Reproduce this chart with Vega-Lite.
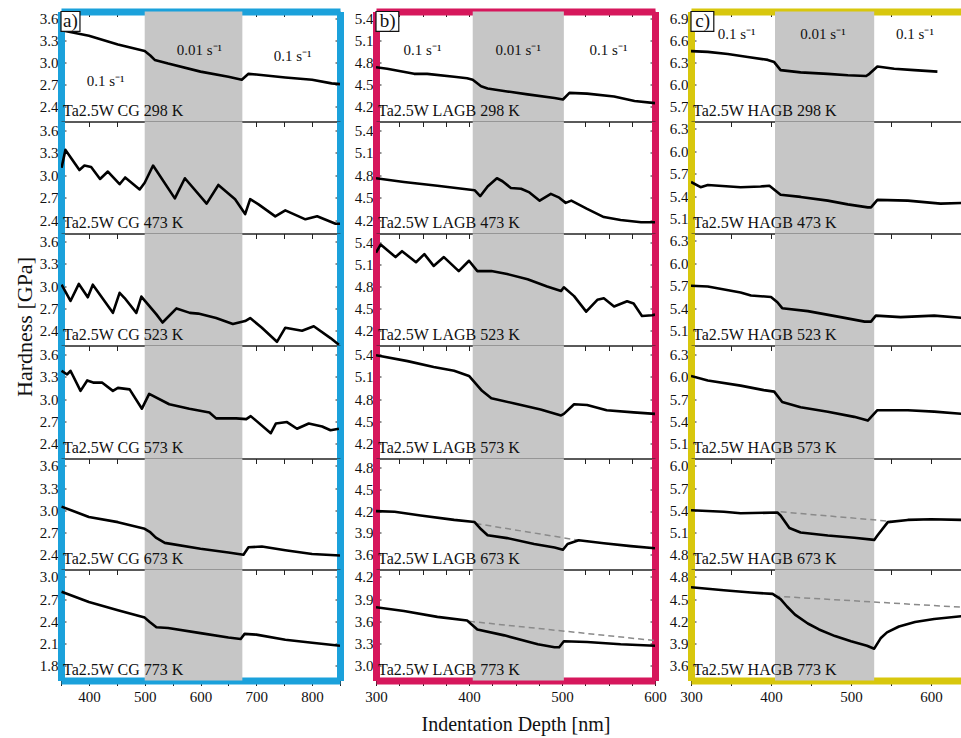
{
"$schema":"https://vega.github.io/schema/vega-lite/v6.json",
"autosize":{"type":"pad"},
"padding":{"left":12,"top":9.5,"right":0,"bottom":0},
"background":"white",
"config":{"font":"Liberation Serif","view":{"stroke":"#222","strokeWidth":1},
"line":{"strokeWidth":2.6,"strokeJoin":"round"},
"axis":{"labelFont":"Liberation Serif","labelFontSize":15,"labelColor":"#111","tickColor":"#222","titleFont":"Liberation Serif","titleFontWeight":"normal","titleColor":"#111","grid":false,"labelFlush":false,"labelOverlap":false},
"text":{"font":"Liberation Serif","color":"#111"}},
"datasets":{
"panels":[
{"p":"a1","label":"Ta2.5W CG 298 K","b0":500,"b1":675,"letter":"a)"},
{"p":"a2","label":"Ta2.5W CG 473 K","b0":500,"b1":675},
{"p":"a3","label":"Ta2.5W CG 523 K","b0":500,"b1":675},
{"p":"a4","label":"Ta2.5W CG 573 K","b0":500,"b1":675},
{"p":"a5","label":"Ta2.5W CG 673 K","b0":500,"b1":675},
{"p":"a6","label":"Ta2.5W CG 773 K","b0":500,"b1":675},
{"p":"b1","label":"Ta2.5W LAGB 298 K","b0":404,"b1":502,"letter":"b)"},
{"p":"b2","label":"Ta2.5W LAGB 473 K","b0":404,"b1":502},
{"p":"b3","label":"Ta2.5W LAGB 523 K","b0":404,"b1":502},
{"p":"b4","label":"Ta2.5W LAGB 573 K","b0":404,"b1":502},
{"p":"b5","label":"Ta2.5W LAGB 673 K","b0":404,"b1":502},
{"p":"b6","label":"Ta2.5W LAGB 773 K","b0":404,"b1":502},
{"p":"c1","label":"Ta2.5W HAGB 298 K","b0":405,"b1":529,"letter":"c)"},
{"p":"c2","label":"Ta2.5W HAGB 473 K","b0":405,"b1":529},
{"p":"c3","label":"Ta2.5W HAGB 523 K","b0":405,"b1":529},
{"p":"c4","label":"Ta2.5W HAGB 573 K","b0":405,"b1":529},
{"p":"c5","label":"Ta2.5W HAGB 673 K","b0":405,"b1":529},
{"p":"c6","label":"Ta2.5W HAGB 773 K","b0":405,"b1":529}],
"rates":[
{"col":"a","r":"0.1 s⁻¹","d":430,"h":2.75},{"col":"a","r":"0.01 s⁻¹","d":598,"h":3.17},{"col":"a","r":"0.1 s⁻¹","d":765,"h":3.09},
{"col":"b","r":"0.1 s⁻¹","d":350,"h":4.98},{"col":"b","r":"0.01 s⁻¹","d":453,"h":4.98},{"col":"b","r":"0.1 s⁻¹","d":550,"h":4.98},
{"col":"c","r":"0.1 s⁻¹","d":357,"h":6.69},{"col":"c","r":"0.01 s⁻¹","d":465,"h":6.69},{"col":"c","r":"0.1 s⁻¹","d":580,"h":6.69}],
"refs":[
{"p":"b5","d":407,"h":4.03},{"p":"b5","d":518,"h":3.80},
{"p":"b6","d":400,"h":3.60},{"p":"b6","d":600,"h":3.34},
{"p":"c5","d":412,"h":5.38},{"p":"c5","d":550,"h":5.25},
{"p":"c6","d":404,"h":4.54},{"p":"c6","d":639,"h":4.39}],
"curves":[
{"p":"a1","d":353,"h":3.44},{"p":"a1","d":400,"h":3.37},{"p":"a1","d":452,"h":3.25},{"p":"a1","d":500,"h":3.16},{"p":"a1","d":510,"h":3.10},{"p":"a1","d":518,"h":3.04},{"p":"a1","d":542,"h":2.99},{"p":"a1","d":600,"h":2.88},{"p":"a1","d":650,"h":2.81},{"p":"a1","d":674,"h":2.77},{"p":"a1","d":686,"h":2.85},{"p":"a1","d":700,"h":2.84},{"p":"a1","d":752,"h":2.80},{"p":"a1","d":800,"h":2.77},{"p":"a1","d":835,"h":2.72},{"p":"a1","d":850,"h":2.71},
{"p":"a2","d":351,"h":3.10},{"p":"a2","d":353,"h":3.17},{"p":"a2","d":358,"h":3.34},{"p":"a2","d":368,"h":3.23},{"p":"a2","d":383,"h":3.07},{"p":"a2","d":392,"h":3.13},{"p":"a2","d":404,"h":3.11},{"p":"a2","d":420,"h":2.95},{"p":"a2","d":434,"h":3.05},{"p":"a2","d":455,"h":2.88},{"p":"a2","d":465,"h":2.97},{"p":"a2","d":491,"h":2.81},{"p":"a2","d":500,"h":2.90},{"p":"a2","d":515,"h":3.13},{"p":"a2","d":554,"h":2.69},{"p":"a2","d":572,"h":2.96},{"p":"a2","d":611,"h":2.62},{"p":"a2","d":632,"h":2.87},{"p":"a2","d":662,"h":2.68},{"p":"a2","d":680,"h":2.48},{"p":"a2","d":689,"h":2.68},{"p":"a2","d":704,"h":2.61},{"p":"a2","d":734,"h":2.45},{"p":"a2","d":752,"h":2.53},{"p":"a2","d":788,"h":2.41},{"p":"a2","d":809,"h":2.45},{"p":"a2","d":842,"h":2.35},{"p":"a2","d":850,"h":2.35},
{"p":"a3","d":351,"h":3.02},{"p":"a3","d":367,"h":2.80},{"p":"a3","d":382,"h":3.03},{"p":"a3","d":398,"h":2.85},{"p":"a3","d":407,"h":3.02},{"p":"a3","d":443,"h":2.64},{"p":"a3","d":455,"h":2.91},{"p":"a3","d":464,"h":2.84},{"p":"a3","d":485,"h":2.64},{"p":"a3","d":494,"h":2.86},{"p":"a3","d":521,"h":2.62},{"p":"a3","d":532,"h":2.51},{"p":"a3","d":557,"h":2.70},{"p":"a3","d":581,"h":2.64},{"p":"a3","d":596,"h":2.63},{"p":"a3","d":612,"h":2.60},{"p":"a3","d":628,"h":2.57},{"p":"a3","d":658,"h":2.49},{"p":"a3","d":680,"h":2.53},{"p":"a3","d":689,"h":2.57},{"p":"a3","d":710,"h":2.44},{"p":"a3","d":737,"h":2.25},{"p":"a3","d":752,"h":2.44},{"p":"a3","d":782,"h":2.40},{"p":"a3","d":803,"h":2.46},{"p":"a3","d":833,"h":2.30},{"p":"a3","d":848,"h":2.21},
{"p":"a4","d":351,"h":3.38},{"p":"a4","d":361,"h":3.33},{"p":"a4","d":367,"h":3.38},{"p":"a4","d":385,"h":3.11},{"p":"a4","d":397,"h":3.25},{"p":"a4","d":409,"h":3.22},{"p":"a4","d":424,"h":3.22},{"p":"a4","d":443,"h":3.11},{"p":"a4","d":452,"h":3.15},{"p":"a4","d":473,"h":3.13},{"p":"a4","d":495,"h":2.87},{"p":"a4","d":508,"h":3.07},{"p":"a4","d":544,"h":2.93},{"p":"a4","d":580,"h":2.87},{"p":"a4","d":616,"h":2.82},{"p":"a4","d":628,"h":2.74},{"p":"a4","d":664,"h":2.74},{"p":"a4","d":682,"h":2.73},{"p":"a4","d":690,"h":2.77},{"p":"a4","d":726,"h":2.54},{"p":"a4","d":735,"h":2.67},{"p":"a4","d":755,"h":2.69},{"p":"a4","d":773,"h":2.60},{"p":"a4","d":794,"h":2.67},{"p":"a4","d":818,"h":2.63},{"p":"a4","d":833,"h":2.58},{"p":"a4","d":848,"h":2.60},
{"p":"a5","d":351,"h":3.05},{"p":"a5","d":400,"h":2.91},{"p":"a5","d":452,"h":2.84},{"p":"a5","d":500,"h":2.75},{"p":"a5","d":509,"h":2.71},{"p":"a5","d":520,"h":2.63},{"p":"a5","d":536,"h":2.56},{"p":"a5","d":600,"h":2.48},{"p":"a5","d":650,"h":2.43},{"p":"a5","d":677,"h":2.40},{"p":"a5","d":686,"h":2.50},{"p":"a5","d":710,"h":2.51},{"p":"a5","d":752,"h":2.46},{"p":"a5","d":800,"h":2.41},{"p":"a5","d":850,"h":2.39},
{"p":"a6","d":351,"h":2.80},{"p":"a6","d":400,"h":2.66},{"p":"a6","d":452,"h":2.55},{"p":"a6","d":500,"h":2.45},{"p":"a6","d":509,"h":2.39},{"p":"a6","d":521,"h":2.32},{"p":"a6","d":542,"h":2.31},{"p":"a6","d":600,"h":2.24},{"p":"a6","d":650,"h":2.18},{"p":"a6","d":672,"h":2.16},{"p":"a6","d":679,"h":2.23},{"p":"a6","d":700,"h":2.22},{"p":"a6","d":752,"h":2.15},{"p":"a6","d":800,"h":2.11},{"p":"a6","d":850,"h":2.07},
{"p":"b1","d":300,"h":4.74},{"p":"b1","d":312,"h":4.72},{"p":"b1","d":341,"h":4.65},{"p":"b1","d":355,"h":4.65},{"p":"b1","d":384,"h":4.61},{"p":"b1","d":398,"h":4.59},{"p":"b1","d":404,"h":4.57},{"p":"b1","d":413,"h":4.48},{"p":"b1","d":420,"h":4.45},{"p":"b1","d":441,"h":4.41},{"p":"b1","d":463,"h":4.37},{"p":"b1","d":492,"h":4.32},{"p":"b1","d":501,"h":4.30},{"p":"b1","d":508,"h":4.39},{"p":"b1","d":527,"h":4.38},{"p":"b1","d":556,"h":4.34},{"p":"b1","d":578,"h":4.28},{"p":"b1","d":600,"h":4.25},
{"p":"b2","d":300,"h":4.76},{"p":"b2","d":330,"h":4.71},{"p":"b2","d":366,"h":4.66},{"p":"b2","d":406,"h":4.60},{"p":"b2","d":412,"h":4.52},{"p":"b2","d":420,"h":4.65},{"p":"b2","d":430,"h":4.76},{"p":"b2","d":436,"h":4.72},{"p":"b2","d":445,"h":4.63},{"p":"b2","d":456,"h":4.62},{"p":"b2","d":465,"h":4.57},{"p":"b2","d":476,"h":4.46},{"p":"b2","d":488,"h":4.55},{"p":"b2","d":497,"h":4.50},{"p":"b2","d":504,"h":4.43},{"p":"b2","d":510,"h":4.46},{"p":"b2","d":527,"h":4.35},{"p":"b2","d":545,"h":4.24},{"p":"b2","d":563,"h":4.20},{"p":"b2","d":585,"h":4.17},{"p":"b2","d":600,"h":4.17},
{"p":"b3","d":300,"h":5.26},{"p":"b3","d":305,"h":5.37},{"p":"b3","d":321,"h":5.20},{"p":"b3","d":328,"h":5.28},{"p":"b3","d":343,"h":5.13},{"p":"b3","d":352,"h":5.24},{"p":"b3","d":362,"h":5.08},{"p":"b3","d":373,"h":5.20},{"p":"b3","d":389,"h":5.01},{"p":"b3","d":400,"h":5.15},{"p":"b3","d":409,"h":5.01},{"p":"b3","d":424,"h":5.01},{"p":"b3","d":441,"h":4.97},{"p":"b3","d":463,"h":4.90},{"p":"b3","d":484,"h":4.80},{"p":"b3","d":499,"h":4.74},{"p":"b3","d":502,"h":4.79},{"p":"b3","d":513,"h":4.67},{"p":"b3","d":526,"h":4.46},{"p":"b3","d":538,"h":4.62},{"p":"b3","d":545,"h":4.64},{"p":"b3","d":556,"h":4.53},{"p":"b3","d":570,"h":4.60},{"p":"b3","d":577,"h":4.57},{"p":"b3","d":586,"h":4.40},{"p":"b3","d":597,"h":4.41},{"p":"b3","d":600,"h":4.42},
{"p":"b4","d":300,"h":5.39},{"p":"b4","d":334,"h":5.31},{"p":"b4","d":362,"h":5.23},{"p":"b4","d":384,"h":5.18},{"p":"b4","d":400,"h":5.11},{"p":"b4","d":414,"h":4.91},{"p":"b4","d":424,"h":4.81},{"p":"b4","d":449,"h":4.74},{"p":"b4","d":477,"h":4.66},{"p":"b4","d":499,"h":4.58},{"p":"b4","d":502,"h":4.60},{"p":"b4","d":513,"h":4.73},{"p":"b4","d":527,"h":4.72},{"p":"b4","d":548,"h":4.65},{"p":"b4","d":577,"h":4.62},{"p":"b4","d":600,"h":4.60},
{"p":"b5","d":300,"h":4.20},{"p":"b5","d":320,"h":4.19},{"p":"b5","d":348,"h":4.14},{"p":"b5","d":384,"h":4.08},{"p":"b5","d":406,"h":4.05},{"p":"b5","d":413,"h":3.95},{"p":"b5","d":420,"h":3.87},{"p":"b5","d":441,"h":3.83},{"p":"b5","d":470,"h":3.75},{"p":"b5","d":492,"h":3.70},{"p":"b5","d":501,"h":3.67},{"p":"b5","d":506,"h":3.75},{"p":"b5","d":518,"h":3.80},{"p":"b5","d":545,"h":3.76},{"p":"b5","d":574,"h":3.72},{"p":"b5","d":600,"h":3.69},
{"p":"b6","d":300,"h":3.79},{"p":"b6","d":330,"h":3.74},{"p":"b6","d":366,"h":3.66},{"p":"b6","d":398,"h":3.61},{"p":"b6","d":409,"h":3.49},{"p":"b6","d":438,"h":3.41},{"p":"b6","d":474,"h":3.29},{"p":"b6","d":492,"h":3.25},{"p":"b6","d":497,"h":3.25},{"p":"b6","d":502,"h":3.33},{"p":"b6","d":527,"h":3.32},{"p":"b6","d":563,"h":3.29},{"p":"b6","d":600,"h":3.27},
{"p":"c1","d":300,"h":6.46},{"p":"c1","d":321,"h":6.45},{"p":"c1","d":346,"h":6.42},{"p":"c1","d":371,"h":6.38},{"p":"c1","d":396,"h":6.34},{"p":"c1","d":404,"h":6.31},{"p":"c1","d":412,"h":6.20},{"p":"c1","d":437,"h":6.17},{"p":"c1","d":471,"h":6.15},{"p":"c1","d":496,"h":6.13},{"p":"c1","d":519,"h":6.12},{"p":"c1","d":523,"h":6.15},{"p":"c1","d":533,"h":6.25},{"p":"c1","d":554,"h":6.22},{"p":"c1","d":579,"h":6.20},{"p":"c1","d":608,"h":6.18},
{"p":"c2","d":300,"h":5.59},{"p":"c2","d":312,"h":5.52},{"p":"c2","d":321,"h":5.55},{"p":"c2","d":362,"h":5.52},{"p":"c2","d":387,"h":5.53},{"p":"c2","d":398,"h":5.54},{"p":"c2","d":412,"h":5.42},{"p":"c2","d":437,"h":5.39},{"p":"c2","d":471,"h":5.34},{"p":"c2","d":496,"h":5.29},{"p":"c2","d":521,"h":5.25},{"p":"c2","d":525,"h":5.25},{"p":"c2","d":533,"h":5.35},{"p":"c2","d":571,"h":5.34},{"p":"c2","d":612,"h":5.30},{"p":"c2","d":639,"h":5.31},
{"p":"c3","d":300,"h":5.70},{"p":"c3","d":321,"h":5.69},{"p":"c3","d":362,"h":5.61},{"p":"c3","d":375,"h":5.57},{"p":"c3","d":400,"h":5.55},{"p":"c3","d":408,"h":5.48},{"p":"c3","d":414,"h":5.40},{"p":"c3","d":446,"h":5.36},{"p":"c3","d":487,"h":5.28},{"p":"c3","d":517,"h":5.22},{"p":"c3","d":525,"h":5.22},{"p":"c3","d":531,"h":5.30},{"p":"c3","d":562,"h":5.28},{"p":"c3","d":604,"h":5.30},{"p":"c3","d":639,"h":5.27},
{"p":"c4","d":300,"h":6.01},{"p":"c4","d":321,"h":5.95},{"p":"c4","d":362,"h":5.88},{"p":"c4","d":391,"h":5.82},{"p":"c4","d":404,"h":5.80},{"p":"c4","d":414,"h":5.66},{"p":"c4","d":437,"h":5.59},{"p":"c4","d":471,"h":5.53},{"p":"c4","d":504,"h":5.46},{"p":"c4","d":521,"h":5.41},{"p":"c4","d":527,"h":5.48},{"p":"c4","d":533,"h":5.55},{"p":"c4","d":571,"h":5.55},{"p":"c4","d":604,"h":5.53},{"p":"c4","d":639,"h":5.50},
{"p":"c5","d":300,"h":5.40},{"p":"c5","d":341,"h":5.38},{"p":"c5","d":362,"h":5.36},{"p":"c5","d":408,"h":5.37},{"p":"c5","d":412,"h":5.33},{"p":"c5","d":423,"h":5.16},{"p":"c5","d":437,"h":5.10},{"p":"c5","d":471,"h":5.06},{"p":"c5","d":504,"h":5.03},{"p":"c5","d":529,"h":5.00},{"p":"c5","d":533,"h":5.06},{"p":"c5","d":546,"h":5.24},{"p":"c5","d":571,"h":5.27},{"p":"c5","d":600,"h":5.28},{"p":"c5","d":639,"h":5.27},
{"p":"c6","d":300,"h":4.66},{"p":"c6","d":341,"h":4.62},{"p":"c6","d":375,"h":4.59},{"p":"c6","d":402,"h":4.57},{"p":"c6","d":412,"h":4.50},{"p":"c6","d":420,"h":4.40},{"p":"c6","d":430,"h":4.29},{"p":"c6","d":446,"h":4.17},{"p":"c6","d":460,"h":4.09},{"p":"c6","d":480,"h":4.00},{"p":"c6","d":500,"h":3.93},{"p":"c6","d":520,"h":3.87},{"p":"c6","d":529,"h":3.83},{"p":"c6","d":537,"h":3.97},{"p":"c6","d":545,"h":4.05},{"p":"c6","d":560,"h":4.13},{"p":"c6","d":580,"h":4.19},{"p":"c6","d":604,"h":4.23},{"p":"c6","d":639,"h":4.27}]
},
"columns":3,
"spacing":{"row":0,"column":36},
"bounds":"flush",
"concat":[
{"width":279,"height":110,"resolve":{"axis":{"x":"independent","y":"independent"}},"layer":[
{"data":{"name":"panels"},"transform":[{"filter":"datum.p=='a1'"}],"mark":{"type":"rect","color":"#c6c6c6"},"encoding":{"x":{"field":"b0","type":"quantitative","scale":{"domain":[350,850],"nice":false,"zero":false},"axis":null},"x2":{"field":"b1"}}},
{"data":{"name":"curves"},"transform":[{"filter":"datum.p=='a1'"}],"mark":{"type":"line","color":"#000","clip":true},"encoding":{"x":{"field":"d","type":"quantitative","scale":{"domain":[350,850],"nice":false,"zero":false},"axis":{"orient":"bottom","values":[350,400,450,500,550,600,650,700,750,800,850],"labels":false,"domain":false,"tickSize":5,"title":null}},"y":{"field":"h","type":"quantitative","scale":{"domain":[2.2,3.7],"nice":false,"zero":false},"axis":{"orient":"left","values":[2.4,2.7,3.0,3.3,3.6],"format":".1f","domainColor":"#1ba1db","domainWidth":7,"tickSize":-5,"labelPadding":8,"title":null}}}},
{"data":{"name":"curves"},"transform":[{"filter":"datum.p=='a1'"}],"mark":{"type":"line","opacity":0},"encoding":{"x":{"field":"d","type":"quantitative","scale":{"domain":[350,850],"nice":false,"zero":false},"axis":{"orient":"top","values":[350,400,450,500,550,600,650,700,750,800,850],"labels":false,"domainColor":"#1ba1db","domainWidth":7,"tickSize":-5,"title":null}},"y":{"field":"h","type":"quantitative","scale":{"domain":[2.2,3.7],"nice":false,"zero":false},"axis":{"orient":"right","values":[2.4,2.7,3.0,3.3,3.6],"labels":false,"domainColor":"#1ba1db","domainWidth":7,"tickSize":-5,"title":null}}}},
{"data":{"name":"panels"},"transform":[{"filter":"datum.p=='a1'"}],"mark":{"type":"text","align":"left","baseline":"alphabetic","fontSize":16},"encoding":{"text":{"field":"label"},"x":{"datum":353.6,"type":"quantitative","axis":null},"y":{"datum":2.27,"type":"quantitative","axis":null}}},
{"data":{"name":"rates"},"transform":[{"filter":"datum.col=='a'"}],"mark":{"type":"text","align":"center","baseline":"middle","fontSize":15},"encoding":{"text":{"field":"r"},"x":{"field":"d","type":"quantitative","axis":null},"y":{"field":"h","type":"quantitative","axis":null}}},
{"data":{"name":"panels"},"transform":[{"filter":"datum.p=='a1'"}],"mark":{"type":"rect","fill":"white","stroke":"#111","strokeWidth":1.2},"encoding":{"x":{"datum":350,"type":"quantitative","axis":null},"x2":{"datum":384},"y":{"datum":3.7,"type":"quantitative","axis":null},"y2":{"datum":3.43}}},
{"data":{"name":"panels"},"transform":[{"filter":"datum.p=='a1'"}],"mark":{"type":"text","align":"center","baseline":"middle","fontSize":19},"encoding":{"text":{"field":"letter"},"x":{"datum":367,"type":"quantitative","axis":null},"y":{"datum":3.565,"type":"quantitative","axis":null}}}
]},
{"width":279,"height":110,"resolve":{"axis":{"x":"independent","y":"independent"}},"layer":[
{"data":{"name":"panels"},"transform":[{"filter":"datum.p=='b1'"}],"mark":{"type":"rect","color":"#c6c6c6"},"encoding":{"x":{"field":"b0","type":"quantitative","scale":{"domain":[300,600],"nice":false,"zero":false},"axis":null},"x2":{"field":"b1"}}},
{"data":{"name":"curves"},"transform":[{"filter":"datum.p=='b1'"}],"mark":{"type":"line","color":"#000","clip":true},"encoding":{"x":{"field":"d","type":"quantitative","scale":{"domain":[300,600],"nice":false,"zero":false},"axis":{"orient":"bottom","values":[300,325,350,375,400,425,450,475,500,525,550,575,600],"labels":false,"domain":false,"tickSize":5,"title":null}},"y":{"field":"h","type":"quantitative","scale":{"domain":[4.0,5.5],"nice":false,"zero":false},"axis":{"orient":"left","values":[4.2,4.5,4.8,5.1,5.4],"format":".1f","domainColor":"#d6175c","domainWidth":7,"tickSize":-5,"labelPadding":8,"title":null}}}},
{"data":{"name":"curves"},"transform":[{"filter":"datum.p=='b1'"}],"mark":{"type":"line","opacity":0},"encoding":{"x":{"field":"d","type":"quantitative","scale":{"domain":[300,600],"nice":false,"zero":false},"axis":{"orient":"top","values":[300,325,350,375,400,425,450,475,500,525,550,575,600],"labels":false,"domainColor":"#d6175c","domainWidth":7,"tickSize":-5,"title":null}},"y":{"field":"h","type":"quantitative","scale":{"domain":[4.0,5.5],"nice":false,"zero":false},"axis":{"orient":"right","values":[4.2,4.5,4.8,5.1,5.4],"labels":false,"domainColor":"#d6175c","domainWidth":7,"tickSize":-5,"title":null}}}},
{"data":{"name":"panels"},"transform":[{"filter":"datum.p=='b1'"}],"mark":{"type":"text","align":"left","baseline":"alphabetic","fontSize":16},"encoding":{"text":{"field":"label"},"x":{"datum":302.2,"type":"quantitative","axis":null},"y":{"datum":4.07,"type":"quantitative","axis":null}}},
{"data":{"name":"rates"},"transform":[{"filter":"datum.col=='b'"}],"mark":{"type":"text","align":"center","baseline":"middle","fontSize":15},"encoding":{"text":{"field":"r"},"x":{"field":"d","type":"quantitative","axis":null},"y":{"field":"h","type":"quantitative","axis":null}}},
{"data":{"name":"panels"},"transform":[{"filter":"datum.p=='b1'"}],"mark":{"type":"rect","fill":"white","stroke":"#111","strokeWidth":1.2},"encoding":{"x":{"datum":300,"type":"quantitative","axis":null},"x2":{"datum":324.5},"y":{"datum":5.5,"type":"quantitative","axis":null},"y2":{"datum":5.23}}},
{"data":{"name":"panels"},"transform":[{"filter":"datum.p=='b1'"}],"mark":{"type":"text","align":"center","baseline":"middle","fontSize":19},"encoding":{"text":{"field":"letter"},"x":{"datum":312.5,"type":"quantitative","axis":null},"y":{"datum":5.365,"type":"quantitative","axis":null}}}
]},
{"width":271,"height":110,"resolve":{"axis":{"x":"independent","y":"independent"}},"layer":[
{"data":{"name":"panels"},"transform":[{"filter":"datum.p=='c1'"}],"mark":{"type":"rect","color":"#c6c6c6"},"encoding":{"x":{"field":"b0","type":"quantitative","scale":{"domain":[300,638.75],"nice":false,"zero":false},"axis":null},"x2":{"field":"b1"}}},
{"data":{"name":"curves"},"transform":[{"filter":"datum.p=='c1'"}],"mark":{"type":"line","color":"#000","clip":true},"encoding":{"x":{"field":"d","type":"quantitative","scale":{"domain":[300,638.75],"nice":false,"zero":false},"axis":{"orient":"bottom","values":[300,350,400,450,500,550,600],"labels":false,"domain":false,"tickSize":5,"title":null}},"y":{"field":"h","type":"quantitative","scale":{"domain":[5.5,7.0],"nice":false,"zero":false},"axis":{"orient":"left","values":[5.7,6.0,6.3,6.6,6.9],"format":".1f","domainColor":"#d8c70d","domainWidth":7,"tickSize":-5,"labelPadding":8,"title":null}}}},
{"data":{"name":"curves"},"transform":[{"filter":"datum.p=='c1'"}],"mark":{"type":"line","opacity":0},"encoding":{"x":{"field":"d","type":"quantitative","scale":{"domain":[300,638.75],"nice":false,"zero":false},"axis":{"orient":"top","values":[300,350,400,450,500,550,600],"labels":false,"domainColor":"#d8c70d","domainWidth":7,"tickSize":-5,"title":null}},"y":{"field":"h","type":"quantitative","scale":{"domain":[5.5,7.0],"nice":false,"zero":false},"axis":null}}},
{"data":{"name":"panels"},"transform":[{"filter":"datum.p=='c1'"}],"mark":{"type":"text","align":"left","baseline":"alphabetic","fontSize":16},"encoding":{"text":{"field":"label"},"x":{"datum":302.5,"type":"quantitative","axis":null},"y":{"datum":5.57,"type":"quantitative","axis":null}}},
{"data":{"name":"rates"},"transform":[{"filter":"datum.col=='c'"}],"mark":{"type":"text","align":"center","baseline":"middle","fontSize":15},"encoding":{"text":{"field":"r"},"x":{"field":"d","type":"quantitative","axis":null},"y":{"field":"h","type":"quantitative","axis":null}}},
{"data":{"name":"panels"},"transform":[{"filter":"datum.p=='c1'"}],"mark":{"type":"rect","fill":"white","stroke":"#111","strokeWidth":1.2},"encoding":{"x":{"datum":300,"type":"quantitative","axis":null},"x2":{"datum":328.5},"y":{"datum":7.0,"type":"quantitative","axis":null},"y2":{"datum":6.73}}},
{"data":{"name":"panels"},"transform":[{"filter":"datum.p=='c1'"}],"mark":{"type":"text","align":"center","baseline":"middle","fontSize":19},"encoding":{"text":{"field":"letter"},"x":{"datum":314.5,"type":"quantitative","axis":null},"y":{"datum":6.865,"type":"quantitative","axis":null}}}
]},
{"width":279,"height":112,"resolve":{"axis":{"x":"independent","y":"independent"}},"layer":[
{"data":{"name":"panels"},"transform":[{"filter":"datum.p=='a2'"}],"mark":{"type":"rect","color":"#c6c6c6"},"encoding":{"x":{"field":"b0","type":"quantitative","scale":{"domain":[350,850],"nice":false,"zero":false},"axis":null},"x2":{"field":"b1"}}},
{"data":{"name":"curves"},"transform":[{"filter":"datum.p=='a2'"}],"mark":{"type":"line","color":"#000","clip":true},"encoding":{"x":{"field":"d","type":"quantitative","scale":{"domain":[350,850],"nice":false,"zero":false},"axis":{"orient":"bottom","values":[350,400,450,500,550,600,650,700,750,800,850],"labels":false,"domain":false,"tickSize":5,"title":null}},"y":{"field":"h","type":"quantitative","scale":{"domain":[2.22,3.72],"nice":false,"zero":false},"axis":{"orient":"left","values":[2.4,2.7,3.0,3.3,3.6],"format":".1f","domainColor":"#1ba1db","domainWidth":7,"tickSize":-5,"labelPadding":8,"title":null}}}},
{"data":{"name":"curves"},"transform":[{"filter":"datum.p=='a2'"}],"mark":{"type":"line","opacity":0},"encoding":{"x":{"field":"d","type":"quantitative","scale":{"domain":[350,850],"nice":false,"zero":false},"axis":null},"y":{"field":"h","type":"quantitative","scale":{"domain":[2.22,3.72],"nice":false,"zero":false},"axis":{"orient":"right","values":[2.4,2.7,3.0,3.3,3.6],"labels":false,"domainColor":"#1ba1db","domainWidth":7,"tickSize":-5,"title":null}}}},
{"data":{"name":"panels"},"transform":[{"filter":"datum.p=='a2'"}],"mark":{"type":"text","align":"left","baseline":"alphabetic","fontSize":16},"encoding":{"text":{"field":"label"},"x":{"datum":353.6,"type":"quantitative","axis":null},"y":{"datum":2.29,"type":"quantitative","axis":null}}}
]},
{"width":279,"height":112,"resolve":{"axis":{"x":"independent","y":"independent"}},"layer":[
{"data":{"name":"panels"},"transform":[{"filter":"datum.p=='b2'"}],"mark":{"type":"rect","color":"#c6c6c6"},"encoding":{"x":{"field":"b0","type":"quantitative","scale":{"domain":[300,600],"nice":false,"zero":false},"axis":null},"x2":{"field":"b1"}}},
{"data":{"name":"curves"},"transform":[{"filter":"datum.p=='b2'"}],"mark":{"type":"line","color":"#000","clip":true},"encoding":{"x":{"field":"d","type":"quantitative","scale":{"domain":[300,600],"nice":false,"zero":false},"axis":{"orient":"bottom","values":[300,325,350,375,400,425,450,475,500,525,550,575,600],"labels":false,"domain":false,"tickSize":5,"title":null}},"y":{"field":"h","type":"quantitative","scale":{"domain":[4.02,5.52],"nice":false,"zero":false},"axis":{"orient":"left","values":[4.2,4.5,4.8,5.1,5.4],"format":".1f","domainColor":"#d6175c","domainWidth":7,"tickSize":-5,"labelPadding":8,"title":null}}}},
{"data":{"name":"curves"},"transform":[{"filter":"datum.p=='b2'"}],"mark":{"type":"line","opacity":0},"encoding":{"x":{"field":"d","type":"quantitative","scale":{"domain":[300,600],"nice":false,"zero":false},"axis":null},"y":{"field":"h","type":"quantitative","scale":{"domain":[4.02,5.52],"nice":false,"zero":false},"axis":{"orient":"right","values":[4.2,4.5,4.8,5.1,5.4],"labels":false,"domainColor":"#d6175c","domainWidth":7,"tickSize":-5,"title":null}}}},
{"data":{"name":"panels"},"transform":[{"filter":"datum.p=='b2'"}],"mark":{"type":"text","align":"left","baseline":"alphabetic","fontSize":16},"encoding":{"text":{"field":"label"},"x":{"datum":302.2,"type":"quantitative","axis":null},"y":{"datum":4.09,"type":"quantitative","axis":null}}}
]},
{"width":271,"height":112,"resolve":{"axis":{"x":"independent","y":"independent"}},"layer":[
{"data":{"name":"panels"},"transform":[{"filter":"datum.p=='c2'"}],"mark":{"type":"rect","color":"#c6c6c6"},"encoding":{"x":{"field":"b0","type":"quantitative","scale":{"domain":[300,638.75],"nice":false,"zero":false},"axis":null},"x2":{"field":"b1"}}},
{"data":{"name":"curves"},"transform":[{"filter":"datum.p=='c2'"}],"mark":{"type":"line","color":"#000","clip":true},"encoding":{"x":{"field":"d","type":"quantitative","scale":{"domain":[300,638.75],"nice":false,"zero":false},"axis":{"orient":"bottom","values":[300,350,400,450,500,550,600],"labels":false,"domain":false,"tickSize":5,"title":null}},"y":{"field":"h","type":"quantitative","scale":{"domain":[4.9,6.4],"nice":false,"zero":false},"axis":{"orient":"left","values":[5.1,5.4,5.7,6.0,6.3],"format":".1f","domainColor":"#d8c70d","domainWidth":7,"tickSize":-5,"labelPadding":8,"title":null}}}},
{"data":{"name":"panels"},"transform":[{"filter":"datum.p=='c2'"}],"mark":{"type":"text","align":"left","baseline":"alphabetic","fontSize":16},"encoding":{"text":{"field":"label"},"x":{"datum":302.5,"type":"quantitative","axis":null},"y":{"datum":4.97,"type":"quantitative","axis":null}}}
]},
{"width":279,"height":112,"resolve":{"axis":{"x":"independent","y":"independent"}},"layer":[
{"data":{"name":"panels"},"transform":[{"filter":"datum.p=='a3'"}],"mark":{"type":"rect","color":"#c6c6c6"},"encoding":{"x":{"field":"b0","type":"quantitative","scale":{"domain":[350,850],"nice":false,"zero":false},"axis":null},"x2":{"field":"b1"}}},
{"data":{"name":"curves"},"transform":[{"filter":"datum.p=='a3'"}],"mark":{"type":"line","color":"#000","clip":true},"encoding":{"x":{"field":"d","type":"quantitative","scale":{"domain":[350,850],"nice":false,"zero":false},"axis":{"orient":"bottom","values":[350,400,450,500,550,600,650,700,750,800,850],"labels":false,"domain":false,"tickSize":5,"title":null}},"y":{"field":"h","type":"quantitative","scale":{"domain":[2.2,3.71],"nice":false,"zero":false},"axis":{"orient":"left","values":[2.4,2.7,3.0,3.3,3.6],"format":".1f","domainColor":"#1ba1db","domainWidth":7,"tickSize":-5,"labelPadding":8,"title":"Hardness [GPa]","titleFontSize":22,"titleX":-30,"titleY":93,"titleAngle":-90,"titleAlign":"center","titleBaseline":"alphabetic"}}}},
{"data":{"name":"curves"},"transform":[{"filter":"datum.p=='a3'"}],"mark":{"type":"line","opacity":0},"encoding":{"x":{"field":"d","type":"quantitative","scale":{"domain":[350,850],"nice":false,"zero":false},"axis":null},"y":{"field":"h","type":"quantitative","scale":{"domain":[2.2,3.71],"nice":false,"zero":false},"axis":{"orient":"right","values":[2.4,2.7,3.0,3.3,3.6],"labels":false,"domainColor":"#1ba1db","domainWidth":7,"tickSize":-5,"title":null}}}},
{"data":{"name":"panels"},"transform":[{"filter":"datum.p=='a3'"}],"mark":{"type":"text","align":"left","baseline":"alphabetic","fontSize":16},"encoding":{"text":{"field":"label"},"x":{"datum":353.6,"type":"quantitative","axis":null},"y":{"datum":2.27,"type":"quantitative","axis":null}}}
]},
{"width":279,"height":112,"resolve":{"axis":{"x":"independent","y":"independent"}},"layer":[
{"data":{"name":"panels"},"transform":[{"filter":"datum.p=='b3'"}],"mark":{"type":"rect","color":"#c6c6c6"},"encoding":{"x":{"field":"b0","type":"quantitative","scale":{"domain":[300,600],"nice":false,"zero":false},"axis":null},"x2":{"field":"b1"}}},
{"data":{"name":"curves"},"transform":[{"filter":"datum.p=='b3'"}],"mark":{"type":"line","color":"#000","clip":true},"encoding":{"x":{"field":"d","type":"quantitative","scale":{"domain":[300,600],"nice":false,"zero":false},"axis":{"orient":"bottom","values":[300,325,350,375,400,425,450,475,500,525,550,575,600],"labels":false,"domain":false,"tickSize":5,"title":null}},"y":{"field":"h","type":"quantitative","scale":{"domain":[4.0,5.52],"nice":false,"zero":false},"axis":{"orient":"left","values":[4.2,4.5,4.8,5.1,5.4],"format":".1f","domainColor":"#d6175c","domainWidth":7,"tickSize":-5,"labelPadding":8,"title":null}}}},
{"data":{"name":"curves"},"transform":[{"filter":"datum.p=='b3'"}],"mark":{"type":"line","opacity":0},"encoding":{"x":{"field":"d","type":"quantitative","scale":{"domain":[300,600],"nice":false,"zero":false},"axis":null},"y":{"field":"h","type":"quantitative","scale":{"domain":[4.0,5.52],"nice":false,"zero":false},"axis":{"orient":"right","values":[4.2,4.5,4.8,5.1,5.4],"labels":false,"domainColor":"#d6175c","domainWidth":7,"tickSize":-5,"title":null}}}},
{"data":{"name":"panels"},"transform":[{"filter":"datum.p=='b3'"}],"mark":{"type":"text","align":"left","baseline":"alphabetic","fontSize":16},"encoding":{"text":{"field":"label"},"x":{"datum":302.2,"type":"quantitative","axis":null},"y":{"datum":4.07,"type":"quantitative","axis":null}}}
]},
{"width":271,"height":112,"resolve":{"axis":{"x":"independent","y":"independent"}},"layer":[
{"data":{"name":"panels"},"transform":[{"filter":"datum.p=='c3'"}],"mark":{"type":"rect","color":"#c6c6c6"},"encoding":{"x":{"field":"b0","type":"quantitative","scale":{"domain":[300,638.75],"nice":false,"zero":false},"axis":null},"x2":{"field":"b1"}}},
{"data":{"name":"curves"},"transform":[{"filter":"datum.p=='c3'"}],"mark":{"type":"line","color":"#000","clip":true},"encoding":{"x":{"field":"d","type":"quantitative","scale":{"domain":[300,638.75],"nice":false,"zero":false},"axis":{"orient":"bottom","values":[300,350,400,450,500,550,600],"labels":false,"domain":false,"tickSize":5,"title":null}},"y":{"field":"h","type":"quantitative","scale":{"domain":[4.9,6.4],"nice":false,"zero":false},"axis":{"orient":"left","values":[5.1,5.4,5.7,6.0,6.3],"format":".1f","domainColor":"#d8c70d","domainWidth":7,"tickSize":-5,"labelPadding":8,"title":null}}}},
{"data":{"name":"panels"},"transform":[{"filter":"datum.p=='c3'"}],"mark":{"type":"text","align":"left","baseline":"alphabetic","fontSize":16},"encoding":{"text":{"field":"label"},"x":{"datum":302.5,"type":"quantitative","axis":null},"y":{"datum":4.97,"type":"quantitative","axis":null}}}
]},
{"width":279,"height":113,"resolve":{"axis":{"x":"independent","y":"independent"}},"layer":[
{"data":{"name":"panels"},"transform":[{"filter":"datum.p=='a4'"}],"mark":{"type":"rect","color":"#c6c6c6"},"encoding":{"x":{"field":"b0","type":"quantitative","scale":{"domain":[350,850],"nice":false,"zero":false},"axis":null},"x2":{"field":"b1"}}},
{"data":{"name":"curves"},"transform":[{"filter":"datum.p=='a4'"}],"mark":{"type":"line","color":"#000","clip":true},"encoding":{"x":{"field":"d","type":"quantitative","scale":{"domain":[350,850],"nice":false,"zero":false},"axis":{"orient":"bottom","values":[350,400,450,500,550,600,650,700,750,800,850],"labels":false,"domain":false,"tickSize":5,"title":null}},"y":{"field":"h","type":"quantitative","scale":{"domain":[2.2,3.72],"nice":false,"zero":false},"axis":{"orient":"left","values":[2.4,2.7,3.0,3.3,3.6],"format":".1f","domainColor":"#1ba1db","domainWidth":7,"tickSize":-5,"labelPadding":8,"title":null}}}},
{"data":{"name":"curves"},"transform":[{"filter":"datum.p=='a4'"}],"mark":{"type":"line","opacity":0},"encoding":{"x":{"field":"d","type":"quantitative","scale":{"domain":[350,850],"nice":false,"zero":false},"axis":null},"y":{"field":"h","type":"quantitative","scale":{"domain":[2.2,3.72],"nice":false,"zero":false},"axis":{"orient":"right","values":[2.4,2.7,3.0,3.3,3.6],"labels":false,"domainColor":"#1ba1db","domainWidth":7,"tickSize":-5,"title":null}}}},
{"data":{"name":"panels"},"transform":[{"filter":"datum.p=='a4'"}],"mark":{"type":"text","align":"left","baseline":"alphabetic","fontSize":16},"encoding":{"text":{"field":"label"},"x":{"datum":353.6,"type":"quantitative","axis":null},"y":{"datum":2.27,"type":"quantitative","axis":null}}}
]},
{"width":279,"height":113,"resolve":{"axis":{"x":"independent","y":"independent"}},"layer":[
{"data":{"name":"panels"},"transform":[{"filter":"datum.p=='b4'"}],"mark":{"type":"rect","color":"#c6c6c6"},"encoding":{"x":{"field":"b0","type":"quantitative","scale":{"domain":[300,600],"nice":false,"zero":false},"axis":null},"x2":{"field":"b1"}}},
{"data":{"name":"curves"},"transform":[{"filter":"datum.p=='b4'"}],"mark":{"type":"line","color":"#000","clip":true},"encoding":{"x":{"field":"d","type":"quantitative","scale":{"domain":[300,600],"nice":false,"zero":false},"axis":{"orient":"bottom","values":[300,325,350,375,400,425,450,475,500,525,550,575,600],"labels":false,"domain":false,"tickSize":5,"title":null}},"y":{"field":"h","type":"quantitative","scale":{"domain":[4.0,5.52],"nice":false,"zero":false},"axis":{"orient":"left","values":[4.2,4.5,4.8,5.1,5.4],"format":".1f","domainColor":"#d6175c","domainWidth":7,"tickSize":-5,"labelPadding":8,"title":null}}}},
{"data":{"name":"curves"},"transform":[{"filter":"datum.p=='b4'"}],"mark":{"type":"line","opacity":0},"encoding":{"x":{"field":"d","type":"quantitative","scale":{"domain":[300,600],"nice":false,"zero":false},"axis":null},"y":{"field":"h","type":"quantitative","scale":{"domain":[4.0,5.52],"nice":false,"zero":false},"axis":{"orient":"right","values":[4.2,4.5,4.8,5.1,5.4],"labels":false,"domainColor":"#d6175c","domainWidth":7,"tickSize":-5,"title":null}}}},
{"data":{"name":"panels"},"transform":[{"filter":"datum.p=='b4'"}],"mark":{"type":"text","align":"left","baseline":"alphabetic","fontSize":16},"encoding":{"text":{"field":"label"},"x":{"datum":302.2,"type":"quantitative","axis":null},"y":{"datum":4.07,"type":"quantitative","axis":null}}}
]},
{"width":271,"height":113,"resolve":{"axis":{"x":"independent","y":"independent"}},"layer":[
{"data":{"name":"panels"},"transform":[{"filter":"datum.p=='c4'"}],"mark":{"type":"rect","color":"#c6c6c6"},"encoding":{"x":{"field":"b0","type":"quantitative","scale":{"domain":[300,638.75],"nice":false,"zero":false},"axis":null},"x2":{"field":"b1"}}},
{"data":{"name":"curves"},"transform":[{"filter":"datum.p=='c4'"}],"mark":{"type":"line","color":"#000","clip":true},"encoding":{"x":{"field":"d","type":"quantitative","scale":{"domain":[300,638.75],"nice":false,"zero":false},"axis":{"orient":"bottom","values":[300,350,400,450,500,550,600],"labels":false,"domain":false,"tickSize":5,"title":null}},"y":{"field":"h","type":"quantitative","scale":{"domain":[4.9,6.42],"nice":false,"zero":false},"axis":{"orient":"left","values":[5.1,5.4,5.7,6.0,6.3],"format":".1f","domainColor":"#d8c70d","domainWidth":7,"tickSize":-5,"labelPadding":8,"title":null}}}},
{"data":{"name":"panels"},"transform":[{"filter":"datum.p=='c4'"}],"mark":{"type":"text","align":"left","baseline":"alphabetic","fontSize":16},"encoding":{"text":{"field":"label"},"x":{"datum":302.5,"type":"quantitative","axis":null},"y":{"datum":4.97,"type":"quantitative","axis":null}}}
]},
{"width":279,"height":111,"resolve":{"axis":{"x":"independent","y":"independent"}},"layer":[
{"data":{"name":"panels"},"transform":[{"filter":"datum.p=='a5'"}],"mark":{"type":"rect","color":"#c6c6c6"},"encoding":{"x":{"field":"b0","type":"quantitative","scale":{"domain":[350,850],"nice":false,"zero":false},"axis":null},"x2":{"field":"b1"}}},
{"data":{"name":"curves"},"transform":[{"filter":"datum.p=='a5'"}],"mark":{"type":"line","color":"#000","clip":true},"encoding":{"x":{"field":"d","type":"quantitative","scale":{"domain":[350,850],"nice":false,"zero":false},"axis":{"orient":"bottom","values":[350,400,450,500,550,600,650,700,750,800,850],"labels":false,"domain":false,"tickSize":5,"title":null}},"y":{"field":"h","type":"quantitative","scale":{"domain":[2.2,3.7],"nice":false,"zero":false},"axis":{"orient":"left","values":[2.4,2.7,3.0,3.3,3.6],"format":".1f","domainColor":"#1ba1db","domainWidth":7,"tickSize":-5,"labelPadding":8,"title":null}}}},
{"data":{"name":"curves"},"transform":[{"filter":"datum.p=='a5'"}],"mark":{"type":"line","opacity":0},"encoding":{"x":{"field":"d","type":"quantitative","scale":{"domain":[350,850],"nice":false,"zero":false},"axis":null},"y":{"field":"h","type":"quantitative","scale":{"domain":[2.2,3.7],"nice":false,"zero":false},"axis":{"orient":"right","values":[2.4,2.7,3.0,3.3,3.6],"labels":false,"domainColor":"#1ba1db","domainWidth":7,"tickSize":-5,"title":null}}}},
{"data":{"name":"panels"},"transform":[{"filter":"datum.p=='a5'"}],"mark":{"type":"text","align":"left","baseline":"alphabetic","fontSize":16},"encoding":{"text":{"field":"label"},"x":{"datum":353.6,"type":"quantitative","axis":null},"y":{"datum":2.27,"type":"quantitative","axis":null}}}
]},
{"width":279,"height":111,"resolve":{"axis":{"x":"independent","y":"independent"}},"layer":[
{"data":{"name":"panels"},"transform":[{"filter":"datum.p=='b5'"}],"mark":{"type":"rect","color":"#c6c6c6"},"encoding":{"x":{"field":"b0","type":"quantitative","scale":{"domain":[300,600],"nice":false,"zero":false},"axis":null},"x2":{"field":"b1"}}},
{"data":{"name":"refs"},"transform":[{"filter":"datum.p=='b5'"}],"mark":{"type":"line","color":"#8a8a8a","strokeWidth":1.5,"strokeDash":[6,4]},"encoding":{"x":{"field":"d","type":"quantitative","axis":null},"y":{"field":"h","type":"quantitative","axis":null}}},
{"data":{"name":"curves"},"transform":[{"filter":"datum.p=='b5'"}],"mark":{"type":"line","color":"#000","clip":true},"encoding":{"x":{"field":"d","type":"quantitative","scale":{"domain":[300,600],"nice":false,"zero":false},"axis":{"orient":"bottom","values":[300,325,350,375,400,425,450,475,500,525,550,575,600],"labels":false,"domain":false,"tickSize":5,"title":null}},"y":{"field":"h","type":"quantitative","scale":{"domain":[3.4,4.92],"nice":false,"zero":false},"axis":{"orient":"left","values":[3.6,3.9,4.2,4.5,4.8],"format":".1f","domainColor":"#d6175c","domainWidth":7,"tickSize":-5,"labelPadding":8,"title":null}}}},
{"data":{"name":"curves"},"transform":[{"filter":"datum.p=='b5'"}],"mark":{"type":"line","opacity":0},"encoding":{"x":{"field":"d","type":"quantitative","scale":{"domain":[300,600],"nice":false,"zero":false},"axis":null},"y":{"field":"h","type":"quantitative","scale":{"domain":[3.4,4.92],"nice":false,"zero":false},"axis":{"orient":"right","values":[3.6,3.9,4.2,4.5,4.8],"labels":false,"domainColor":"#d6175c","domainWidth":7,"tickSize":-5,"title":null}}}},
{"data":{"name":"panels"},"transform":[{"filter":"datum.p=='b5'"}],"mark":{"type":"text","align":"left","baseline":"alphabetic","fontSize":16},"encoding":{"text":{"field":"label"},"x":{"datum":302.2,"type":"quantitative","axis":null},"y":{"datum":3.47,"type":"quantitative","axis":null}}}
]},
{"width":271,"height":111,"resolve":{"axis":{"x":"independent","y":"independent"}},"layer":[
{"data":{"name":"panels"},"transform":[{"filter":"datum.p=='c5'"}],"mark":{"type":"rect","color":"#c6c6c6"},"encoding":{"x":{"field":"b0","type":"quantitative","scale":{"domain":[300,638.75],"nice":false,"zero":false},"axis":null},"x2":{"field":"b1"}}},
{"data":{"name":"refs"},"transform":[{"filter":"datum.p=='c5'"}],"mark":{"type":"line","color":"#8a8a8a","strokeWidth":1.5,"strokeDash":[6,4]},"encoding":{"x":{"field":"d","type":"quantitative","axis":null},"y":{"field":"h","type":"quantitative","axis":null}}},
{"data":{"name":"curves"},"transform":[{"filter":"datum.p=='c5'"}],"mark":{"type":"line","color":"#000","clip":true},"encoding":{"x":{"field":"d","type":"quantitative","scale":{"domain":[300,638.75],"nice":false,"zero":false},"axis":{"orient":"bottom","values":[300,350,400,450,500,550,600],"labels":false,"domain":false,"tickSize":5,"title":null}},"y":{"field":"h","type":"quantitative","scale":{"domain":[4.6,6.1],"nice":false,"zero":false},"axis":{"orient":"left","values":[4.8,5.1,5.4,5.7,6.0],"format":".1f","domainColor":"#d8c70d","domainWidth":7,"tickSize":-5,"labelPadding":8,"title":null}}}},
{"data":{"name":"panels"},"transform":[{"filter":"datum.p=='c5'"}],"mark":{"type":"text","align":"left","baseline":"alphabetic","fontSize":16},"encoding":{"text":{"field":"label"},"x":{"datum":302.5,"type":"quantitative","axis":null},"y":{"datum":4.67,"type":"quantitative","axis":null}}}
]},
{"width":279,"height":111,"resolve":{"axis":{"x":"independent","y":"independent"}},"layer":[
{"data":{"name":"panels"},"transform":[{"filter":"datum.p=='a6'"}],"mark":{"type":"rect","color":"#c6c6c6"},"encoding":{"x":{"field":"b0","type":"quantitative","scale":{"domain":[350,850],"nice":false,"zero":false},"axis":null},"x2":{"field":"b1"}}},
{"data":{"name":"curves"},"transform":[{"filter":"datum.p=='a6'"}],"mark":{"type":"line","color":"#000","clip":true},"encoding":{"x":{"field":"d","type":"quantitative","scale":{"domain":[350,850],"nice":false,"zero":false},"axis":{"orient":"bottom","values":[350,400,450,500,550,600,650,700,750,800,850],"labelExpr":"datum.value % 100 == 0 ? datum.label : ''","domainColor":"#1ba1db","domainWidth":7,"tickSize":5,"labelPadding":4,"title":null}},"y":{"field":"h","type":"quantitative","scale":{"domain":[1.6,3.1],"nice":false,"zero":false},"axis":{"orient":"left","values":[1.8,2.1,2.4,2.7,3.0],"format":".1f","domainColor":"#1ba1db","domainWidth":7,"tickSize":-5,"labelPadding":8,"title":null}}}},
{"data":{"name":"curves"},"transform":[{"filter":"datum.p=='a6'"}],"mark":{"type":"line","opacity":0},"encoding":{"x":{"field":"d","type":"quantitative","scale":{"domain":[350,850],"nice":false,"zero":false},"axis":null},"y":{"field":"h","type":"quantitative","scale":{"domain":[1.6,3.1],"nice":false,"zero":false},"axis":{"orient":"right","values":[1.8,2.1,2.4,2.7,3.0],"labels":false,"domainColor":"#1ba1db","domainWidth":7,"tickSize":-5,"title":null}}}},
{"data":{"name":"panels"},"transform":[{"filter":"datum.p=='a6'"}],"mark":{"type":"text","align":"left","baseline":"alphabetic","fontSize":16},"encoding":{"text":{"field":"label"},"x":{"datum":353.6,"type":"quantitative","axis":null},"y":{"datum":1.67,"type":"quantitative","axis":null}}}
]},
{"width":279,"height":111,"resolve":{"axis":{"x":"independent","y":"independent"}},"layer":[
{"data":{"name":"panels"},"transform":[{"filter":"datum.p=='b6'"}],"mark":{"type":"rect","color":"#c6c6c6"},"encoding":{"x":{"field":"b0","type":"quantitative","scale":{"domain":[300,600],"nice":false,"zero":false},"axis":null},"x2":{"field":"b1"}}},
{"data":{"name":"refs"},"transform":[{"filter":"datum.p=='b6'"}],"mark":{"type":"line","color":"#8a8a8a","strokeWidth":1.5,"strokeDash":[6,4]},"encoding":{"x":{"field":"d","type":"quantitative","axis":null},"y":{"field":"h","type":"quantitative","axis":null}}},
{"data":{"name":"curves"},"transform":[{"filter":"datum.p=='b6'"}],"mark":{"type":"line","color":"#000","clip":true},"encoding":{"x":{"field":"d","type":"quantitative","scale":{"domain":[300,600],"nice":false,"zero":false},"axis":{"orient":"bottom","values":[300,325,350,375,400,425,450,475,500,525,550,575,600],"labelExpr":"datum.value % 100 == 0 ? datum.label : ''","domainColor":"#d6175c","domainWidth":7,"tickSize":5,"labelPadding":4,"title":"Indentation Depth [nm]","titleFontSize":20,"titleY":50,"titleBaseline":"alphabetic"}},"y":{"field":"h","type":"quantitative","scale":{"domain":[2.8,4.3],"nice":false,"zero":false},"axis":{"orient":"left","values":[3.0,3.3,3.6,3.9,4.2],"format":".1f","domainColor":"#d6175c","domainWidth":7,"tickSize":-5,"labelPadding":8,"title":null}}}},
{"data":{"name":"curves"},"transform":[{"filter":"datum.p=='b6'"}],"mark":{"type":"line","opacity":0},"encoding":{"x":{"field":"d","type":"quantitative","scale":{"domain":[300,600],"nice":false,"zero":false},"axis":null},"y":{"field":"h","type":"quantitative","scale":{"domain":[2.8,4.3],"nice":false,"zero":false},"axis":{"orient":"right","values":[3.0,3.3,3.6,3.9,4.2],"labels":false,"domainColor":"#d6175c","domainWidth":7,"tickSize":-5,"title":null}}}},
{"data":{"name":"panels"},"transform":[{"filter":"datum.p=='b6'"}],"mark":{"type":"text","align":"left","baseline":"alphabetic","fontSize":16},"encoding":{"text":{"field":"label"},"x":{"datum":302.2,"type":"quantitative","axis":null},"y":{"datum":2.87,"type":"quantitative","axis":null}}}
]},
{"width":271,"height":111,"resolve":{"axis":{"x":"independent","y":"independent"}},"layer":[
{"data":{"name":"panels"},"transform":[{"filter":"datum.p=='c6'"}],"mark":{"type":"rect","color":"#c6c6c6"},"encoding":{"x":{"field":"b0","type":"quantitative","scale":{"domain":[300,638.75],"nice":false,"zero":false},"axis":null},"x2":{"field":"b1"}}},
{"data":{"name":"refs"},"transform":[{"filter":"datum.p=='c6'"}],"mark":{"type":"line","color":"#8a8a8a","strokeWidth":1.5,"strokeDash":[6,4]},"encoding":{"x":{"field":"d","type":"quantitative","axis":null},"y":{"field":"h","type":"quantitative","axis":null}}},
{"data":{"name":"curves"},"transform":[{"filter":"datum.p=='c6'"}],"mark":{"type":"line","color":"#000","clip":true},"encoding":{"x":{"field":"d","type":"quantitative","scale":{"domain":[300,638.75],"nice":false,"zero":false},"axis":{"orient":"bottom","values":[300,350,400,450,500,550,600],"labelExpr":"datum.value % 100 == 0 ? datum.label : ''","domainColor":"#d8c70d","domainWidth":7,"tickSize":5,"labelPadding":4,"title":null}},"y":{"field":"h","type":"quantitative","scale":{"domain":[3.4,4.9],"nice":false,"zero":false},"axis":{"orient":"left","values":[3.6,3.9,4.2,4.5,4.8],"format":".1f","domainColor":"#d8c70d","domainWidth":7,"tickSize":-5,"labelPadding":8,"title":null}}}},
{"data":{"name":"panels"},"transform":[{"filter":"datum.p=='c6'"}],"mark":{"type":"text","align":"left","baseline":"alphabetic","fontSize":16},"encoding":{"text":{"field":"label"},"x":{"datum":302.5,"type":"quantitative","axis":null},"y":{"datum":3.47,"type":"quantitative","axis":null}}}
]}
]
}
